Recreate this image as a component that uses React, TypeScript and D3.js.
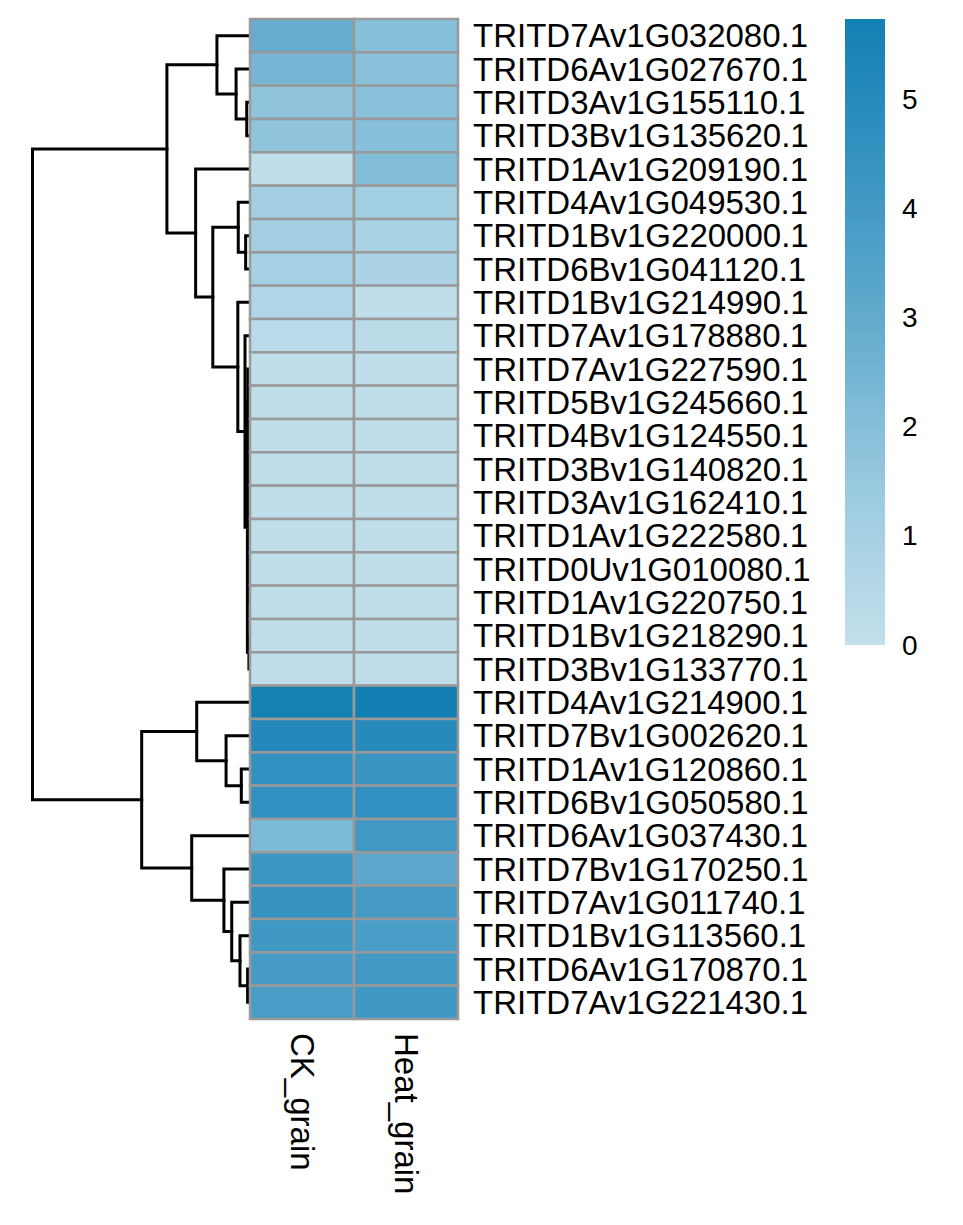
import React, { useEffect, useRef } from "react";
import * as d3 from "d3";

const genes = [
  "TRITD7Av1G032080.1", "TRITD6Av1G027670.1", "TRITD3Av1G155110.1", "TRITD3Bv1G135620.1",
  "TRITD1Av1G209190.1", "TRITD4Av1G049530.1", "TRITD1Bv1G220000.1", "TRITD6Bv1G041120.1",
  "TRITD1Bv1G214990.1", "TRITD7Av1G178880.1", "TRITD7Av1G227590.1", "TRITD5Bv1G245660.1",
  "TRITD4Bv1G124550.1", "TRITD3Bv1G140820.1", "TRITD3Av1G162410.1", "TRITD1Av1G222580.1",
  "TRITD0Uv1G010080.1", "TRITD1Av1G220750.1", "TRITD1Bv1G218290.1", "TRITD3Bv1G133770.1",
  "TRITD4Av1G214900.1", "TRITD7Bv1G002620.1", "TRITD1Av1G120860.1", "TRITD6Bv1G050580.1",
  "TRITD6Av1G037430.1", "TRITD7Bv1G170250.1", "TRITD7Av1G011740.1", "TRITD1Bv1G113560.1",
  "TRITD6Av1G170870.1", "TRITD7Av1G221430.1",
];

const samples = ["CK_grain", "Heat_grain"];

const ckValues = [
  2.9, 2.4, 1.75, 1.75, 0.1, 1.1, 1.07, 1.0, 0.7, 0.3,
  0.15, 0.12, 0.12, 0.12, 0.12, 0.12, 0.1, 0.1, 0.1, 0.1,
  5.7, 5.1, 4.6, 4.6, 2.25, 4.25, 4.5, 4.1, 3.9, 3.85,
];
const heatValues = [
  2.0, 1.9, 1.9, 2.0, 2.1, 1.15, 0.9, 0.8, 0.1, 0.28,
  0.15, 0.12, 0.12, 0.12, 0.12, 0.12, 0.1, 0.1, 0.1, 0.1,
  5.74, 5.05, 4.35, 4.6, 4.05, 3.2, 3.95, 3.8, 4.05, 4.1,
];

// hclust-style merge matrix: negative = leaf (row index + 1), positive = earlier merge (1-based)
const merges: [number, number, number][] = [
  [-3, -4, 0.15],
  [-2, 1, 0.64],
  [-1, 2, 1.52],
  [-7, -8, 0.2],
  [-6, 4, 0.54],
  [-17, -18, 0.04],
  [-16, 6, 0.05],
  [-15, 7, 0.06],
  [-14, 8, 0.07],
  [-13, 9, 0.08],
  [-12, 10, 0.09],
  [-11, 11, 0.1],
  [-19, -20, 0.05],
  [12, 13, 0.12],
  [-10, 14, 0.23],
  [-9, 15, 0.56],
  [5, 16, 1.71],
  [-5, 17, 2.5],
  [3, 18, 3.82],
  [-23, -24, 0.4],
  [-22, 20, 1.1],
  [-21, 21, 2.45],
  [-29, -30, 0.11],
  [-28, 23, 0.46],
  [-27, 24, 0.84],
  [-26, 25, 1.2],
  [-25, 26, 2.68],
  [22, 27, 4.98],
  [19, 28, 10.0],
];

const legendTicks = [0, 1, 2, 3, 4, 5];
const valueMax = 5.74;
const colorStops = ["#C3DFEB", "#9ACAE0", "#66ADCE", "#3A95C3", "#1380B3"];

export default function App() {
  const ref = useRef<SVGSVGElement>(null);

  useEffect(() => {
    document.body.style.margin = "0";
    const svg = d3.select(ref.current);
    svg.selectAll("*").remove();

    const font = "'Liberation Sans', Arial, sans-serif";
    const left = 250, right = 458, top = 19, bottom = 1019;

    const x = d3.scaleBand<string>().domain(samples).range([left, right]);
    const y = d3.scaleBand<string>().domain(genes).range([top, bottom]);
    const color = d3
      .scaleLinear<string>()
      .domain(colorStops.map((_, i) => (i / (colorStops.length - 1)) * valueMax))
      .range(colorStops)
      .interpolate(d3.interpolateRgb);

    // dendrogram
    const hx = d3.scaleLinear().domain([0, 10]).range([left, 32.5]);
    type N = { y: number; h: number };
    const nodes: N[] = [];
    const get = (k: number): N =>
      k < 0 ? { y: (y(genes[-k - 1]) as number) + y.bandwidth() / 2, h: 0 } : nodes[k - 1];
    const dg = svg.append("g").attr("fill", "none").attr("stroke", "#000").attr("stroke-width", 3);
    merges.forEach(([a, b, h]) => {
      const A = get(a), B = get(b);
      const p = d3.path();
      p.moveTo(hx(A.h), A.y);
      p.lineTo(hx(h), A.y);
      p.lineTo(hx(h), B.y);
      p.lineTo(hx(B.h), B.y);
      dg.append("path").attr("d", p.toString()).attr("stroke-linejoin", "miter").attr("stroke-linecap", "square");
      nodes.push({ y: (A.y + B.y) / 2, h });
    });

    // heatmap cells
    const cells: { g: string; s: string; v: number }[] = [];
    genes.forEach((g, i) => {
      cells.push({ g, s: samples[0], v: ckValues[i] });
      cells.push({ g, s: samples[1], v: heatValues[i] });
    });
    svg
      .append("g")
      .selectAll("rect")
      .data(cells)
      .join("rect")
      .attr("x", (d) => x(d.s) as number)
      .attr("y", (d) => y(d.g) as number)
      .attr("width", x.bandwidth())
      .attr("height", y.bandwidth())
      .attr("fill", (d) => color(d.v))
      .attr("stroke", "#999999")
      .attr("stroke-width", 2.5);

    // row labels
    svg
      .append("g")
      .selectAll("text")
      .data(genes)
      .join("text")
      .attr("x", right + 15)
      .attr("y", (d) => (y(d) as number) + y.bandwidth() / 2)
      .attr("dominant-baseline", "central")
      .attr("font-family", font)
      .attr("font-size", 33)
      .attr("fill", "#000")
      .text((d) => d);

    // column labels
    svg
      .append("g")
      .selectAll("text")
      .data(samples)
      .join("text")
      .attr("transform", (d) => `translate(${(x(d) as number) + x.bandwidth() / 2},${bottom + 14}) rotate(90)`)
      .attr("dominant-baseline", "central")
      .attr("font-family", font)
      .attr("font-size", 33)
      .attr("fill", "#000")
      .text((d) => d);

    // legend
    const ly = d3.scaleLinear().domain([0, valueMax]).range([645, 19]);
    const defs = svg.append("defs");
    const grad = defs
      .append("linearGradient")
      .attr("id", "lg")
      .attr("x1", 0).attr("y1", 1).attr("x2", 0).attr("y2", 0);
    colorStops.forEach((c, i) => {
      grad.append("stop").attr("offset", i / (colorStops.length - 1)).attr("stop-color", c);
    });
    svg
      .append("rect")
      .attr("x", 845)
      .attr("y", ly(valueMax))
      .attr("width", 40)
      .attr("height", ly(0) - ly(valueMax))
      .attr("fill", "url(#lg)");
    svg
      .append("g")
      .selectAll("text")
      .data(legendTicks)
      .join("text")
      .attr("x", 902)
      .attr("y", (d) => ly(d))
      .attr("dominant-baseline", "central")
      .attr("font-family", font)
      .attr("font-size", 28)
      .attr("fill", "#000")
      .text((d) => String(d));
  }, []);

  return <svg ref={ref} width={963} height={1225} style={{ display: "block", background: "#fff" }} />;
}
